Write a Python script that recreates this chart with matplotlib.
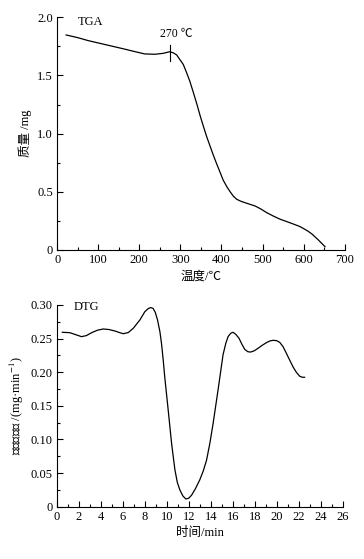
import matplotlib
matplotlib.use("Agg")
import matplotlib.pyplot as plt
from matplotlib.ticker import MultipleLocator

plt.rcParams['font.family'] = ['Liberation Serif', 'Noto Sans CJK SC', 'DejaVu Sans']
plt.rcParams['mathtext.fontset'] = 'stix'
plt.rcParams['font.size'] = 9

# TGA: temperature (C) vs mass (mg)
tga_temp = [22, 50, 76, 104, 132, 160, 189, 213, 238, 258, 274, 283, 291, 299, 307,
            315, 323, 331, 340, 348, 356, 364, 372, 380, 388, 396, 404, 413, 421,
            429, 437, 447, 457, 469, 482, 496, 510, 526, 543, 559, 575, 590, 599,
            610, 620, 628, 636, 644, 652]
tga_mass = [1.848, 1.825, 1.799, 1.776, 1.753, 1.730, 1.705, 1.685, 1.682, 1.690,
            1.704, 1.694, 1.676, 1.635, 1.595, 1.525, 1.450, 1.360, 1.255, 1.155,
            1.063, 0.974, 0.895, 0.817, 0.743, 0.673, 0.602, 0.544, 0.501, 0.462,
            0.436, 0.419, 0.407, 0.393, 0.378, 0.352, 0.321, 0.292, 0.264, 0.244,
            0.223, 0.203, 0.186, 0.163, 0.138, 0.112, 0.086, 0.057, 0.029]

# DTG: time (min) vs mass change rate
dtg_time = [0.51, 1.20, 1.70, 2.26, 2.70, 3.17, 3.70, 4.23, 4.75, 5.29, 5.70, 6.04,
            6.50, 6.95, 7.55, 8.00, 8.30, 8.52, 8.75, 8.95, 9.15, 9.37, 9.52, 9.67,
            9.82, 10.12, 10.43, 10.73, 10.95, 11.18, 11.45, 11.72, 11.98, 12.24,
            12.60, 12.99, 13.30, 13.60, 13.90, 14.20, 14.65, 15.10, 15.35, 15.56,
            15.80, 16.00, 16.25, 16.55, 16.80, 17.07, 17.35, 17.61, 17.95, 18.28,
            18.65, 19.04, 19.35, 19.64, 19.95, 20.24, 20.55, 20.85, 21.15, 21.45,
            21.75, 22.06, 22.30, 22.50]
dtg_rate = [0.2594, 0.2588, 0.2560, 0.2529, 0.2545, 0.2588, 0.2625, 0.2643, 0.2635,
            0.2613, 0.2590, 0.2573, 0.2590, 0.2653, 0.2777, 0.2900, 0.2945, 0.2962,
            0.2950, 0.2890, 0.2780, 0.2603, 0.2420, 0.2180, 0.1910, 0.1440, 0.0940,
            0.0550, 0.0360, 0.0250, 0.0160, 0.0115, 0.0125, 0.0170, 0.0270, 0.0400,
            0.0530, 0.0690, 0.0940, 0.1240, 0.1740, 0.2260, 0.2430, 0.2530, 0.2580,
            0.2594, 0.2565, 0.2505, 0.2420, 0.2340, 0.2305, 0.2300, 0.2320, 0.2356,
            0.2400, 0.2440, 0.2465, 0.2475, 0.2470, 0.2445, 0.2380, 0.2280, 0.2180,
            0.2080, 0.2000, 0.1940, 0.1925, 0.1925]

tga_yticks = [0, 0.5, 1.0, 1.5, 2.0]
tga_ylabels = ['0', '0.5', '1.0', '1.5', '2.0']
tga_xticks = [0, 100, 200, 300, 400, 500, 600, 700]
dtg_yticks = [0, 0.05, 0.10, 0.15, 0.20, 0.25, 0.30]
dtg_ylabels = ['0', '0.05', '0.10', '0.15', '0.20', '0.25', '0.30']
dtg_xticks = list(range(0, 27, 2))

fig = plt.figure(figsize=(3.64, 5.59), dpi=100)
ax1 = fig.add_axes([0.157, 0.5528, 0.790, 0.4163])
ax2 = fig.add_axes([0.1557, 0.0936, 0.787, 0.3608])


def style(ax):
    for s in ['top', 'right']:
        ax.spines[s].set_visible(False)
    for s in ['left', 'bottom']:
        ax.spines[s].set_linewidth(0.8)
    ax.tick_params(which='both', direction='in', width=0.8, labelsize=9, pad=3)
    ax.tick_params(which='major', length=4)
    ax.tick_params(which='minor', length=2.5)


# --- TGA ---
ax1.plot(tga_temp, tga_mass, color='black', lw=0.9)
ax1.set_xlim(0, 700)
ax1.set_ylim(0, 2.0)
ax1.set_xticks(tga_xticks)
ax1.set_yticks(tga_yticks)
ax1.set_yticklabels(tga_ylabels)
ax1.xaxis.set_minor_locator(MultipleLocator(50))
ax1.yaxis.set_minor_locator(MultipleLocator(0.25))
style(ax1)
ax1.plot([275, 275], [1.62, 1.76], color='black', lw=0.8)
ax1.text(291, 1.855, '270 ℃', ha='center', va='center', fontsize=8.5)
ax1.text(0.073, 0.981, 'TGA', transform=ax1.transAxes, ha='left', va='center', fontsize=9)
ax1.set_xlabel('温度/℃', fontsize=9, labelpad=3)
ax1.set_ylabel('质量 /mg', fontsize=9, labelpad=4)

# --- DTG ---
ax2.plot(dtg_time, dtg_rate, color='black', lw=0.9)
ax2.set_xlim(0, 26)
ax2.set_ylim(0, 0.30)
ax2.set_xticks(dtg_xticks)
ax2.set_yticks(dtg_yticks)
ax2.set_yticklabels(dtg_ylabels)
ax2.xaxis.set_minor_locator(MultipleLocator(1))
ax2.yaxis.set_minor_locator(MultipleLocator(0.025))
style(ax2)
ax2.text(0.058, 0.988, 'DTG', transform=ax2.transAxes, ha='left', va='center', fontsize=9)
ax2.set_xlabel('时间/min', fontsize=9, labelpad=3)
ax2.set_ylabel('质量变化率 /(mg·min$^{-1}$)', fontsize=9, labelpad=3)

fig.savefig('out.png', dpi=100)
